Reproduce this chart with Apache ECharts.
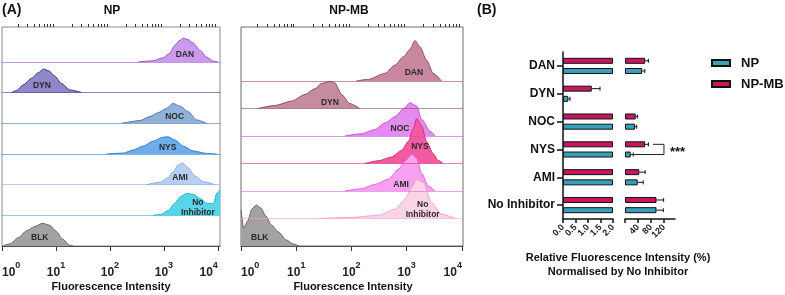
<!DOCTYPE html>
<html>
<head>
<meta charset="utf-8">
<title>Fluorescence histograms and relative intensity</title>
<script src="https://cdn.jsdelivr.net/npm/echarts@6.0.0/dist/echarts.min.js"></script>
<style>
  html, body { margin: 0; padding: 0; background: #fff; }
  #chart { width: 785px; height: 295px; }
</style>
</head>
<body>
<div id="chart"></div>
<script>
// (A) histogram rows, top to bottom
const rowNames = ['DAN', 'DYN', 'NOC', 'NYS', 'AMI', 'No Inhibitor', 'BLK']

// x = log10(fluorescence), y = count as % of the row height
const npDanX = [2.52, 2.80, 2.99, 3.11, 3.20, 3.30, 3.36, 3.45, 3.54, 3.67, 3.79, 3.91, 4.00]
const npDanY = [0, 4, 14, 29, 54, 71, 78, 73, 62, 38, 16, 3, 0]
const npDynX = [0.18, 0.27, 0.39, 0.55, 0.67, 0.77, 0.86, 0.98, 1.10, 1.26, 1.48]
const npDynY = [0, 7, 25, 47, 65, 77, 72, 54, 30, 9, 0]
const npNocX = [2.22, 2.56, 2.74, 2.90, 3.05, 3.17, 3.30, 3.45, 3.61, 3.79]
const npNocY = [0, 9, 22, 35, 49, 65, 56, 38, 11, 0]
const npNysX = [1.94, 2.25, 2.43, 2.62, 2.80, 2.99, 3.08, 3.20, 3.36, 3.54, 3.79, 3.98]
const npNysY = [0, 3, 13, 26, 42, 55, 56, 46, 26, 10, 2, 0]
const npAmiX = [2.68, 2.93, 3.08, 3.17, 3.27, 3.35, 3.45, 3.57, 3.73, 3.94]
const npAmiY = [0, 8, 23, 42, 65, 71, 55, 29, 10, 0]
const npNoInhX = [2.80, 2.95, 3.08, 3.20, 3.32, 3.42, 3.55, 3.67, 3.80, 3.92, 3.98, 4.04]
const npNoInhY = [0, 3, 16, 39, 62, 72, 68, 55, 39, 39, 72, 82]
const npBlkX = [0.02, 0.15, 0.30, 0.45, 0.60, 0.75, 0.88, 1.00, 1.12, 1.25, 1.32]
const npBlkY = [0, 7, 27, 49, 63, 74, 68, 49, 23, 3, 0]

const mbDanX = [2.09, 2.31, 2.61, 2.79, 2.94, 3.06, 3.15, 3.24, 3.36, 3.48, 3.63]
const mbDanY = [0, 6, 28, 58, 88, 115, 147, 125, 76, 28, 0]
const mbDynX = [0.31, 0.62, 0.92, 1.16, 1.34, 1.46, 1.61, 1.70, 1.82, 1.97, 2.15]
const mbDynY = [0, 11, 27, 51, 72, 91, 99, 93, 51, 18, 0]
const mbNocX = [1.88, 2.18, 2.43, 2.61, 2.79, 2.94, 3.06, 3.18, 3.27, 3.42, 3.51]
const mbNocY = [0, 8, 24, 48, 70, 99, 121, 109, 61, 18, 0]
const mbNysX = [2.24, 2.49, 2.73, 2.91, 3.03, 3.12, 3.18, 3.27, 3.36, 3.48, 3.57, 3.66]
const mbNysY = [0, 10, 24, 48, 80, 127, 164, 138, 80, 36, 11, 0]
const mbAmiX = [1.88, 2.18, 2.43, 2.67, 2.85, 2.97, 3.09, 3.18, 3.27, 3.39, 3.51]
const mbAmiY = [0, 8, 24, 43, 79, 109, 133, 120, 65, 18, 0]
const mbNoInhX = [1.40, 2.00, 2.49, 2.79, 2.97, 3.09, 3.18, 3.30, 3.45, 3.63, 3.87]
const mbNoInhY = [0, 4, 12, 34, 70, 113, 142, 131, 58, 16, 0]
const mbBlkX = [0.00, 0.05, 0.12, 0.20, 0.28, 0.36, 0.45, 0.55, 0.68, 0.82, 0.95, 1.05]
const mbBlkY = [131, 65, 91, 135, 149, 138, 109, 76, 51, 22, 7, 0]

const decadeTicks = [0, 1, 2, 3, 4]

// (B) relative fluorescence intensity (%)
const categories = ['DAN', 'DYN', 'NOC', 'NYS', 'AMI', 'No Inhibitor']
const npVals = [53, 0.21, 31, 17.5, 39, 97]
const npErr = [8, 0.07, 5, 8, 17, 21]
const npmbVals = [62, 1.15, 33, 62, 44, 97]
const npmbErr = [10, 0.33, 5, 10, 18, 22]
const leftTicks = [0, 0.5, 1, 1.5, 2]
const rightTicks = [0, 40, 80, 120]
const rightLabels = [40, 80, 120]

const FONT = 'Liberation Sans'
const TEAL = '#36a0bb'
const MAG = '#c8175f'

const npColors = [
  { fill: '#cc99ee', line: '#9955cc' },
  { fill: '#8e88c8', line: '#3f3790' },
  { fill: '#90b1d8', line: '#4a78b0' },
  { fill: '#6eaceb', line: '#2f7fd0' },
  { fill: '#b7d0f1', line: '#86ade0' },
  { fill: '#58d5e8', line: '#1fb4cf' },
  { fill: '#a2a2a2', line: '#666666' }
]
const mbColors = [
  { fill: '#c8879f', line: '#984a6c' },
  { fill: '#c58ca0', line: '#8a4763' },
  { fill: '#e38bee', line: '#c850d8' },
  { fill: '#f25aa2', line: '#de2a78' },
  { fill: '#f6a2f1', line: '#e060e0' },
  { fill: '#f9d3e6', line: '#f2a3cb' },
  { fill: '#a2a2a2', line: '#666666' }
]
// label anchors in data units [log10, %]
const npLabelAt = [[3.39, 23], [0.74, 22], [3.20, 21], [3.07, 20], [3.30, 22], [3.63, 24], [0.70, 26]]
const mbLabelAt = [[3.13, 29], [1.61, 20], [2.88, 25], [3.24, 60], [2.90, 22], [3.29, 31], [0.34, 29]]

const panels = [
  {
    left: 2, width: 218, max: 4.04, base0: 62, step: 30.67, colors: npColors, labelAt: npLabelAt, border: '#8a8a8a',
    hists: [[npDanX, npDanY], [npDynX, npDynY], [npNocX, npNocY], [npNysX, npNysY], [npAmiX, npAmiY], [npNoInhX, npNoInhY], [npBlkX, npBlkY]]
  },
  {
    left: 241, width: 222, max: 4.02, base0: 81, step: 27.5, colors: mbColors, labelAt: mbLabelAt, border: '#6a6a6a',
    hists: [[mbDanX, mbDanY], [mbDynX, mbDynY], [mbNocX, mbNocY], [mbNysX, mbNysY], [mbAmiX, mbAmiY], [mbNoInhX, mbNoInhY], [mbBlkX, mbBlkY]]
  }
]

const minorTicks = []
for (let n = 0; n < 4; n++) {
  for (let k = 2; k < 10; k++) minorTicks.push(n + Math.log10(k))
}

const grids = []
const xAxes = []
const yAxes = []
const series = []

panels.forEach(p => {
  const frame = grids.length
  grids.push({ left: p.left, top: 27, width: p.width, height: 219, show: true, borderColor: p.border, borderWidth: 1, outerBoundsMode: 'none' })
  xAxes.push({
    gridIndex: frame,
    type: 'value',
    min: 0,
    max: p.max,
    splitLine: { show: false },
    axisLine: { show: true, lineStyle: { color: '#333', width: 1 } },
    axisTick: { show: true, length: 5, customValues: decadeTicks, lineStyle: { color: '#333' } },
    axisLabel: {
      customValues: decadeTicks,
      margin: 15,
      alignMinLabel: 'left',
      alignMaxLabel: 'right',
      formatter: v => '{b|10}{s|' + v + '}',
      rich: {
        b: { fontSize: 12, fontWeight: 'bold', color: '#222', fontFamily: FONT, verticalAlign: 'bottom', lineHeight: 18 },
        s: { fontSize: 9, fontWeight: 'bold', color: '#222', fontFamily: FONT, verticalAlign: 'top', lineHeight: 10 }
      }
    }
  })
  xAxes.push({
    gridIndex: frame,
    type: 'value',
    min: 0,
    max: p.max,
    splitLine: { show: false },
    axisLine: { show: false },
    axisLabel: { show: false },
    axisTick: { show: true, length: 3, customValues: minorTicks, lineStyle: { color: '#333' } }
  })
  yAxes.push({ gridIndex: frame, type: 'value', show: false })

  p.hists.forEach((h, i) => {
    const g = grids.length
    grids.push({ left: p.left, width: p.width, top: p.base0 + p.step * (i - 1), height: p.step, outerBoundsMode: 'none' })
    xAxes.push({ gridIndex: g, type: 'value', min: 0, max: p.max, show: false })
    yAxes.push({ gridIndex: g, type: 'value', min: 0, max: 100, show: false })
    const c = p.colors[i]
    series.push({
      type: 'line',
      name: rowNames[i],
      xAxisIndex: xAxes.length - 1,
      yAxisIndex: yAxes.length - 1,
      data: h[0].map((x, k) => [x, h[1][k]]),
      symbol: 'none',
      smooth: 0.25,
      smoothMonotone: 'x',
      clip: false,
      silent: true,
      lineStyle: { color: c.line, width: 1 },
      areaStyle: { color: c.fill, opacity: 1 },
      markLine: {
        silent: true,
        symbol: 'none',
        label: { show: false },
        lineStyle: { color: c.line, width: 1, type: 'solid', opacity: 0.6 },
        data: [{ yAxis: 0 }]
      },
      markPoint: {
        silent: true,
        symbol: 'rect',
        symbolSize: 1,
        itemStyle: { color: 'rgba(0,0,0,0)' },
        label: {
          show: true,
          position: 'inside',
          formatter: rowNames[i] === 'No Inhibitor' ? 'No\nInhibitor' : rowNames[i],
          fontSize: 8.5,
          lineHeight: 10,
          fontWeight: 'bold',
          fontFamily: FONT,
          color: '#2a2a2a'
        },
        data: [{ coord: p.labelAt[i] }]
      }
    })
  })
})

// (B) broken value axis: two grids side by side
const bl = grids.length
grids.push({ left: 563, top: 52, width: 50, height: 167, outerBoundsMode: 'none' })
const br = grids.length
grids.push({ left: 625, top: 52, width: 50, height: 167, outerBoundsMode: 'none' })

const barAxisLine = { show: true, lineStyle: { color: '#111', width: 1.5 } }
const bxl = xAxes.length
xAxes.push({
  gridIndex: bl, type: 'value', min: 0, max: 2,
  splitLine: { show: false },
  axisLine: barAxisLine,
  axisTick: { show: true, length: 4, customValues: leftTicks, lineStyle: { color: '#111', width: 1.5 } },
  axisLabel: { customValues: leftTicks, rotate: 45, margin: 7, fontSize: 9, fontWeight: 'bold', color: '#222', fontFamily: FONT, formatter: v => v.toFixed(1) }
})
const bxr = xAxes.length
xAxes.push({
  gridIndex: br, type: 'value', min: 0, max: 154,
  splitLine: { show: false },
  axisLine: barAxisLine,
  axisTick: { show: true, length: 4, customValues: rightTicks, lineStyle: { color: '#111', width: 1.5 } },
  axisLabel: { customValues: rightLabels, rotate: 45, margin: 7, fontSize: 9, fontWeight: 'bold', color: '#222', fontFamily: FONT }
})
const byl = yAxes.length
yAxes.push({
  gridIndex: bl, type: 'category', data: categories, inverse: true,
  axisLine: barAxisLine,
  axisTick: { show: true, alignWithLabel: true, length: 6, lineStyle: { color: '#111', width: 1.5 } },
  axisLabel: { margin: 8, fontSize: 12, fontWeight: 'bold', color: '#111', fontFamily: FONT }
})
const byr = yAxes.length
yAxes.push({ gridIndex: br, type: 'category', data: categories, inverse: true, show: false })

const BAR_W = 6
const BAR_GAP = 4.2
const offTop = -(BAR_W + BAR_GAP) / 2
const offBottom = (BAR_W + BAR_GAP) / 2

function errRender (offset) {
  return function (params, api) {
    const cat = api.value(1)
    const a = api.coord([api.value(0), cat])
    const b = api.coord([api.value(0) + api.value(2), cat])
    const y = a[1] + offset
    const st = { stroke: '#111', lineWidth: 1 }
    return {
      type: 'group',
      children: [
        { type: 'line', shape: { x1: a[0], y1: y, x2: b[0], y2: y }, style: st },
        { type: 'line', shape: { x1: b[0], y1: y - 2, x2: b[0], y2: y + 2 }, style: st }
      ]
    }
  }
}

const barStyle = color => ({ color: color, borderColor: '#111', borderWidth: 1 })
const groups = [
  { name: 'NP-MB', vals: npmbVals, err: npmbErr, color: MAG, off: offTop },
  { name: 'NP', vals: npVals, err: npErr, color: TEAL, off: offBottom }
]

groups.forEach(s => {
  series.push({
    type: 'bar', name: s.name, xAxisIndex: bxl, yAxisIndex: byl,
    data: s.vals.map(v => Math.min(v, 2)),
    barWidth: BAR_W, barGap: (BAR_GAP / BAR_W * 100) + '%',
    clip: false, itemStyle: barStyle(s.color)
  })
  series.push({
    type: 'bar', name: s.name, xAxisIndex: bxr, yAxisIndex: byr,
    data: s.vals.map(v => (v > 2 ? v : '-')),
    barWidth: BAR_W, barGap: (BAR_GAP / BAR_W * 100) + '%',
    itemStyle: barStyle(s.color)
  })
  series.push({
    type: 'custom', name: s.name + ' err', xAxisIndex: bxl, yAxisIndex: byl,
    renderItem: errRender(s.off),
    encode: { x: 0, y: 1 },
    data: s.vals.map((v, i) => [v, i, s.err[i]]).filter(d => d[0] <= 2)
  })
  series.push({
    type: 'custom', name: s.name + ' err', xAxisIndex: bxr, yAxisIndex: byr,
    renderItem: errRender(s.off),
    encode: { x: 0, y: 1 },
    data: s.vals.map((v, i) => [v, i, s.err[i]]).filter(d => d[0] > 2)
  })
})

// significance bracket between NYS NP-MB and NP
series.push({
  type: 'custom', name: 'sig', xAxisIndex: bxr, yAxisIndex: byr,
  encode: { x: 0, y: 1 },
  data: [[120, 3, 86, 28]],
  renderItem: function (params, api) {
    const cat = api.value(1)
    const at = api.coord([api.value(0), cat])
    const fromTop = api.coord([api.value(2), cat])
    const fromBottom = api.coord([api.value(3), cat])
    const yT = at[1] + offTop
    const yB = at[1] + offBottom
    return {
      type: 'group',
      children: [
        {
          type: 'polyline',
          shape: { points: [[fromTop[0], yT], [at[0], yT], [at[0], yB], [fromBottom[0], yB]] },
          style: { stroke: '#222', lineWidth: 1, fill: 'none' }
        },
        {
          type: 'text',
          x: at[0] + 6,
          y: at[1] + 3,
          style: { text: '***', fontSize: 13, fontWeight: 'bold', fontFamily: FONT, fill: '#111', verticalAlign: 'middle' }
        }
      ]
    }
  }
})

const txt = (text, x, y, size, align) => ({
  type: 'text', x: x, y: y, silent: true,
  style: { text: text, fontSize: size, fontWeight: 'bold', fontFamily: FONT, fill: '#111', align: align || 'center', verticalAlign: 'middle', lineHeight: 14 }
})

const option = {
  animation: false,
  textStyle: { fontFamily: FONT },
  grid: grids,
  xAxis: xAxes,
  yAxis: yAxes,
  legend: {
    data: ['NP', 'NP-MB'],
    orient: 'vertical',
    left: 711,
    top: 56,
    padding: 0,
    icon: 'rect',
    itemWidth: 18,
    itemHeight: 6,
    itemGap: 7,
    selectedMode: false,
    textStyle: { fontSize: 13, fontWeight: 'bold', color: '#111', fontFamily: FONT, lineHeight: 14, padding: [0, 0, 0, 6] }
  },
  graphic: [
    txt('(A)', 2, 10, 14, 'left'),
    txt('NP', 112, 11, 12),
    txt('NP-MB', 349, 11, 12),
    txt('(B)', 477, 10, 14, 'left'),
    txt('Fluorescence Intensity', 111, 287, 11),
    txt('Fluorescence Intensity', 353, 287, 11),
    txt('Relative Fluorescence Intensity (%)\nNormalised by No Inhibitor', 618, 265, 11)
  ],
  series: series
}

const chart = echarts.init(document.getElementById('chart'))
chart.setOption(option)
window.addEventListener('resize', function () {
  chart.resize()
})
</script>
</body>
</html>
